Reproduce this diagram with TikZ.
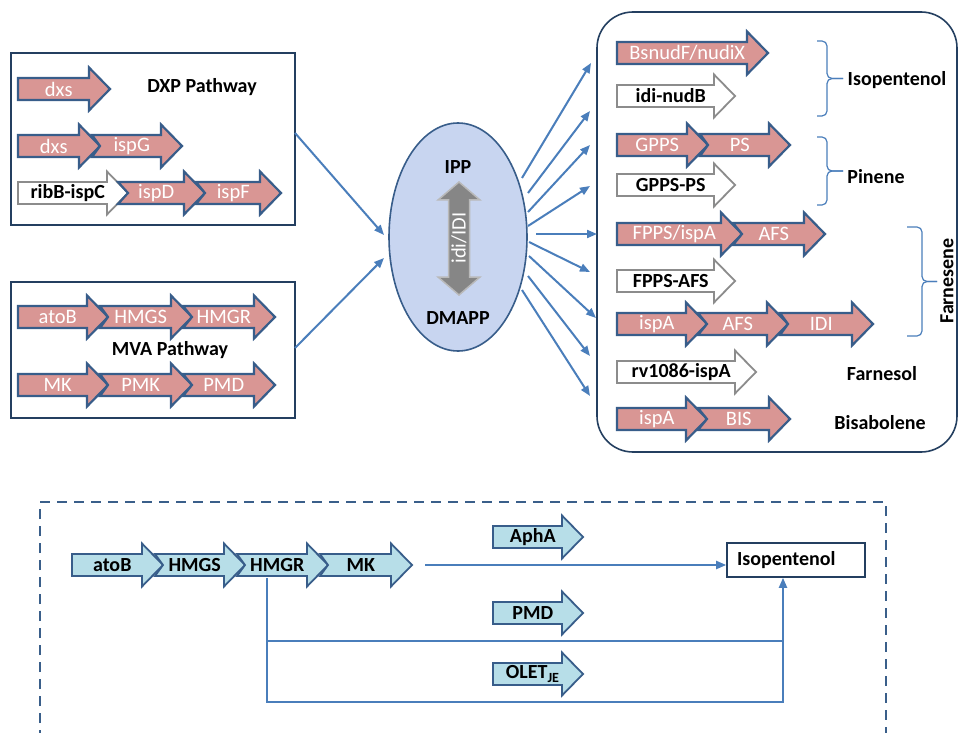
\documentclass[tikz,border=0pt]{standalone}
\usepackage{fontspec}
\setmainfont{Carlito}
\usetikzlibrary{arrows.meta,shapes.geometric}
\definecolor{pinkc}{HTML}{D99694}
\definecolor{navyc}{HTML}{385D8A}
\definecolor{grayc}{HTML}{8C8C8C}
\definecolor{lbluec}{HTML}{B7DEE8}
\definecolor{linec}{HTML}{4A7EBB}
\definecolor{boxc}{HTML}{243F60}
\definecolor{ellc}{HTML}{C8D5F0}
\definecolor{dashc}{HTML}{3A5F8A}
\tikzset{
 pinkarr/.style={fill=pinkc, draw=navyc, line width=2.2pt},
 whitearr/.style={fill=white, draw=grayc, line width=1.8pt},
 bluearr/.style={fill=lbluec, draw=navyc, line width=1.8pt},
 wtxt/.style={text=white, font=\fontsize{20.5}{22}\selectfont, inner sep=0pt},
 btxt/.style={text=black, font=\fontsize{20}{22}\selectfont\bfseries, inner sep=0pt},
 lbl/.style={text=black, font=\fontsize{20}{22}\selectfont\bfseries, inner sep=0pt},
 conn/.style={draw=linec, line width=2pt, -{Triangle[length=10pt,width=8pt]}},
 plainline/.style={draw=linec, line width=2pt},
 bracestyle/.style={draw=linec, line width=1.2pt, rounded corners=5pt},
 framebox/.style={draw=boxc, line width=1.6pt},
}
% #1 name, #2 x0, #3 tip, #4 y, #5 notch, #6 shape style, #7 text style, #8 text
\newcommand\genearrow[8]{%
 \draw[#6] (#2,#4-11) -- (#3-21,#4-11) -- (#3-21,#4-21.5) -- (#3,#4) -- (#3-21,#4+21.5) -- (#3-21,#4+11) -- (#2,#4+11) -- (#2+#5,#4) -- cycle;
 \node[#7] (#1) at ({(#2+#3-10.5)/2},#4) {#8};
}
% #1 x vertical, #2 ytop, #3 ybot, #4 tick end, #5 hook length
\newcommand\rbracket[5]{%
 \draw[bracestyle] (#1-#5,#2) -- (#1,#2) -- (#1,{(#2+#3)/2}) -- (#4,{(#2+#3)/2});
 \draw[bracestyle] (#1-#5,#3) -- (#1,#3) -- (#1,{(#2+#3)/2}) -- (#4,{(#2+#3)/2});
}
\begin{document}
\begin{tikzpicture}[x=1pt,y=-1pt]
\useasboundingbox (0,0) rectangle (959,733);
\fill[white] (0,0) rectangle (959,733);

% ---------- DXP box ----------
\node[framebox, minimum width=284pt, minimum height=172pt] (dxp) at (153,139) {};
\genearrow{dxsA}{18}{110}{89}{0}{pinkarr}{wtxt}{dxs}
\node[lbl] (dxplbl) at (202,87) {DXP Pathway};
\genearrow{dxsB}{18}{100}{146}{0}{pinkarr}{wtxt}{dxs}
\genearrow{ispG}{92}{182}{146}{8}{pinkarr}{wtxt}{ispG}
\genearrow{ribB}{18}{128}{193}{0}{whitearr}{btxt}{ribB-ispC}
\genearrow{ispD}{118}{205}{193}{10}{pinkarr}{wtxt}{ispD}
\genearrow{ispF}{196}{281}{193}{9}{pinkarr}{wtxt}{ispF}

% ---------- MVA box ----------
\node[framebox, minimum width=284pt, minimum height=136pt] (mva) at (153,350) {};
\genearrow{atoB}{18}{108}{317}{0}{pinkarr}{wtxt}{atoB}
\genearrow{hmgs}{100}{192}{317}{8}{pinkarr}{wtxt}{HMGS}
\genearrow{hmgr}{183}{275}{317}{9}{pinkarr}{wtxt}{HMGR}
\node[lbl] (mvalbl) at (170,350) {MVA Pathway};
\genearrow{mk}{18}{108}{385}{0}{pinkarr}{wtxt}{MK}
\genearrow{pmk}{100}{192}{385}{8}{pinkarr}{wtxt}{PMK}
\genearrow{pmd}{183}{275}{385}{9}{pinkarr}{wtxt}{PMD}

% ---------- central ellipse ----------
\node[ellipse, draw=navyc, fill=ellc, line width=1.6pt, minimum width=138pt, minimum height=228pt, inner sep=0pt] (ell) at (458,237) {};
\node[lbl] (ipp) at (458,167) {IPP};
\node[lbl] (dmapp) at (458,318) {DMAPP};
\draw[fill=gray!95, draw=gray!55, line width=1.5pt] (459,182) -- (480,200) -- (469.5,200) -- (469.5,277) -- (480,277) -- (459,295) -- (438,277) -- (448.5,277) -- (448.5,200) -- (438,200) -- cycle;
\node[wtxt, rotate=90] (idi) at (459,238) {idi/IDI};

% connectors into ellipse
\coordinate (dxpout) at (295,133);
\coordinate (ellin1) at (384,235);
\coordinate (mvaout) at (295,348);
\coordinate (ellin2) at (384,258);
\draw[conn] (dxpout) -- (ellin1);
\draw[conn] (mvaout) -- (ellin2);

% ---------- product box ----------
\node[framebox, rounded corners=36pt, minimum width=360pt, minimum height=440pt] (prod) at (777,232) {};
\genearrow{bsnud}{617}{768}{53}{0}{pinkarr}{wtxt}{BsnudF/nudiX}
\genearrow{idinud}{617}{735}{96}{0}{whitearr}{btxt}{idi-nudB}
\genearrow{gpps}{617}{708}{145}{0}{pinkarr}{wtxt}{GPPS}
\genearrow{ps}{700}{790}{145}{8}{pinkarr}{wtxt}{PS}
\genearrow{gppsps}{617}{735}{185}{0}{whitearr}{btxt}{GPPS-PS}
\genearrow{fpps}{617}{742}{234}{0}{pinkarr}{wtxt}{FPPS/ispA}
\genearrow{afsA}{733}{825}{234}{9}{pinkarr}{wtxt}{AFS}
\genearrow{fppsafs}{617}{735}{281}{0}{whitearr}{btxt}{FPPS-AFS}
\genearrow{ispAa}{617}{707}{324}{0}{pinkarr}{wtxt}{ispA}
\genearrow{afsB}{698}{788}{324}{9}{pinkarr}{wtxt}{AFS}
\genearrow{idiB}{780}{873}{324}{8}{pinkarr}{wtxt}{IDI}
\genearrow{rv}{617}{756}{372}{0}{whitearr}{btxt}{rv1086-ispA}
\genearrow{ispAb}{617}{707}{419}{0}{pinkarr}{wtxt}{ispA}
\genearrow{bis}{698}{790}{419}{9}{pinkarr}{wtxt}{BIS}

\rbracket{827}{41}{116}{843}{10}
\rbracket{827}{137}{205}{843}{10}
\rbracket{922}{227}{336}{937}{15}
\node[lbl] (isoA) at (897,80) {Isopentenol};
\node[lbl] (pinene) at (876,177) {Pinene};
\node[lbl, rotate=90] (farnesene) at (947,281) {Farnesene};
\node[lbl] (farnesol) at (882,374) {Farnesol};
\node[lbl] (bisabolene) at (880,423) {Bisabolene};

% fan-out connectors
\coordinate (s1) at (522,178); \coordinate (t1) at (591,63);
\coordinate (s2) at (528,193); \coordinate (t2) at (590,111);
\coordinate (s3) at (528,212); \coordinate (t3) at (590,145);
\coordinate (s4) at (528,226); \coordinate (t4) at (590,186);
\coordinate (s5) at (536,234); \coordinate (t5) at (597,234);
\coordinate (s6) at (529,242); \coordinate (t6) at (590,272);
\coordinate (s7) at (529,256); \coordinate (t7) at (596,318);
\coordinate (s8) at (528,276); \coordinate (t8) at (590,356);
\coordinate (s9) at (522,290); \coordinate (t9) at (590,396);
\foreach \i in {1,...,9} {\draw[conn] (s\i) -- (t\i);}

% ---------- bottom dashed panel ----------
\draw[draw=dashc, line width=1.8pt, dash pattern=on 10pt off 7pt] (40,740) -- (40,502) -- (886,502) -- (886,740);
\genearrow{atoBb}{72}{163}{565}{0}{bluearr}{btxt}{atoB}
\genearrow{hmgsb}{155}{245}{565}{8}{bluearr}{btxt}{HMGS}
\genearrow{hmgrb}{237}{328}{565}{8}{bluearr}{btxt}{HMGR}
\genearrow{mkb}{320}{412}{565}{8}{bluearr}{btxt}{MK}
\genearrow{apha}{493}{583}{537}{0}{bluearr}{btxt}{AphA}
\genearrow{pmdb}{493}{583}{613}{0}{bluearr}{btxt}{PMD}
\genearrow{olet}{493}{583}{674}{0}{bluearr}{btxt}{OLET\textsubscript{JE}}
\node[draw=boxc, line width=1.6pt, minimum width=138pt, minimum height=34pt, text width=118pt, align=left, lbl] (iso) at (796,560) {Isopentenol};

\coordinate (mkout) at (425,565);
\draw[conn] (mkout) -- (iso.west |- mkout);
\coordinate (hmgrbot) at (267,578);
\coordinate (j1) at (267,641);
\coordinate (j2) at (267,702);
\coordinate (m1) at (783,641);
\coordinate (m2) at (783,702);
\draw[plainline] (j1) -- (m1);
\draw[conn] (hmgrbot) -- (j2) -- (m2) -- (m2 |- iso.south);
\end{tikzpicture}
\end{document}
